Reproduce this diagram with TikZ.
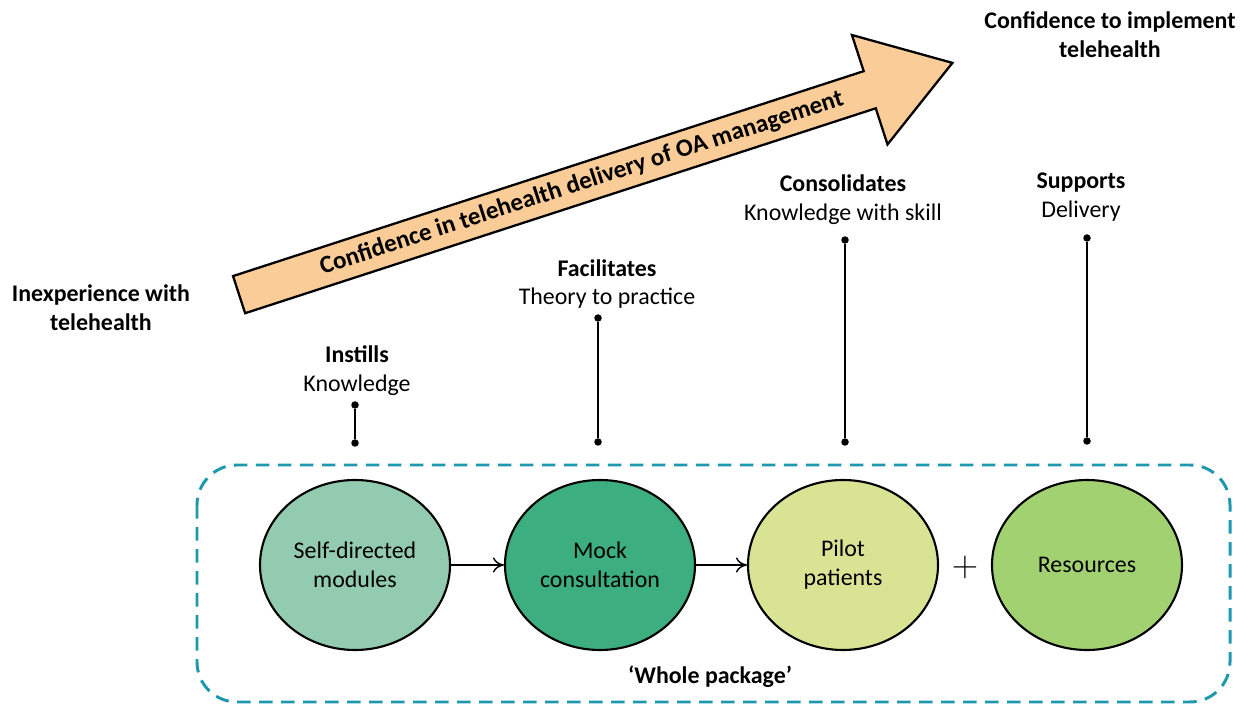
\documentclass[tikz,border=0pt]{standalone}
\usepackage{fontspec}
\setmainfont{Carlito}
\usetikzlibrary{shapes.geometric,shapes.arrows,arrows.meta}
\definecolor{boxteal}{RGB}{30,152,172}
\definecolor{modfill}{RGB}{146,203,176}
\definecolor{mockfill}{RGB}{60,174,127}
\definecolor{pilotfill}{RGB}{216,228,148}
\definecolor{resfill}{RGB}{162,209,114}
\definecolor{trendfill}{RGB}{250,205,152}

\begin{document}
\begin{tikzpicture}[x=0.2mm,y=-0.2mm,font=\fontsize{13.6}{16.4}\selectfont]
      \useasboundingbox (0,0) rectangle (1248,704);
      \tikzstyle{stage}=[ellipse, draw, line width=1.2pt, minimum width=38mm, minimum height=34mm, align=center]
      \tikzstyle{pin}=[circle, fill, inner sep=0pt, minimum size=1.5mm]
      \tikzstyle{role}=[align=center, inner sep=0pt]
      \tikzstyle{flow}=[line width=0.8pt, -{To[length=2.2mm,width=3mm]}]
      % package frame
      \draw [boxteal, line width=1.7pt, dash pattern=on 2.7mm off 1.7mm, rounded corners=8mm]
          (197,465) rectangle (1230,702);
      \node [font=\fontsize{13.6}{16.4}\selectfont\bfseries] (whole) at (710,677) {`Whole package'};
      % big arrow
      \node [single arrow, draw, line width=1.3pt, fill=trendfill, rotate=18, anchor=tail,
             minimum height=150mm, inner ysep=1.5mm, single arrow head extend=7.6mm,
             single arrow tip angle=67, font=\fontsize{14.2}{16}\selectfont\bfseries] (trend) at (238,295)
          {Confidence in telehealth delivery of OA management};
      \node [role, font=\fontsize{13.6}{16.4}\selectfont\bfseries] (start) at (101,308) {Inexperience with\\telehealth};
      \node [role, font=\fontsize{13.6}{16.4}\selectfont\bfseries] (goal) at (1110,35) {Confidence to implement\\telehealth};
      % stages
      \node [stage, fill=modfill] (mods) at (355,565) {Self-directed\\modules};
      \node [stage, fill=mockfill] (mock) at (600,565) {Mock\\consultation};
      \node [stage, fill=pilotfill] (pilot) at (843,565) {Pilot\\patients};
      \node [stage, fill=resfill] (res) at (1087,565) {Resources};
      \node [font=\fontsize{22}{22}\selectfont] (plus) at (965,567) {$+$};
      \draw [flow] (mods) -- (mock);
      \draw [flow] (mock) -- (pilot);
      % roles
      \node [role] (instills) at (357,371) {\textbf{Instills}\\Knowledge};
      \node [role] (facil) at (607,284) {\textbf{Facilitates}\\Theory to practice};
      \node [role] (consol) at (843,200) {\textbf{Consolidates}\\Knowledge with skill};
      \node [role] (supp) at (1081,197) {\textbf{Supports}\\Delivery};
      \node [pin] (p1a) at (355,405) {};
      \node [pin] (p1b) at (355,443) {};
      \node [pin] (p2a) at (598,318) {};
      \node [pin] (p2b) at (598,442) {};
      \node [pin] (p3a) at (845,240) {};
      \node [pin] (p3b) at (845,442) {};
      \node [pin] (p4a) at (1087,238) {};
      \node [pin] (p4b) at (1087,441) {};
      \foreach \i in {1,2,3,4}
          \draw [line width=0.8pt] (p\i a) -- (p\i b);
\end{tikzpicture}
\end{document}
